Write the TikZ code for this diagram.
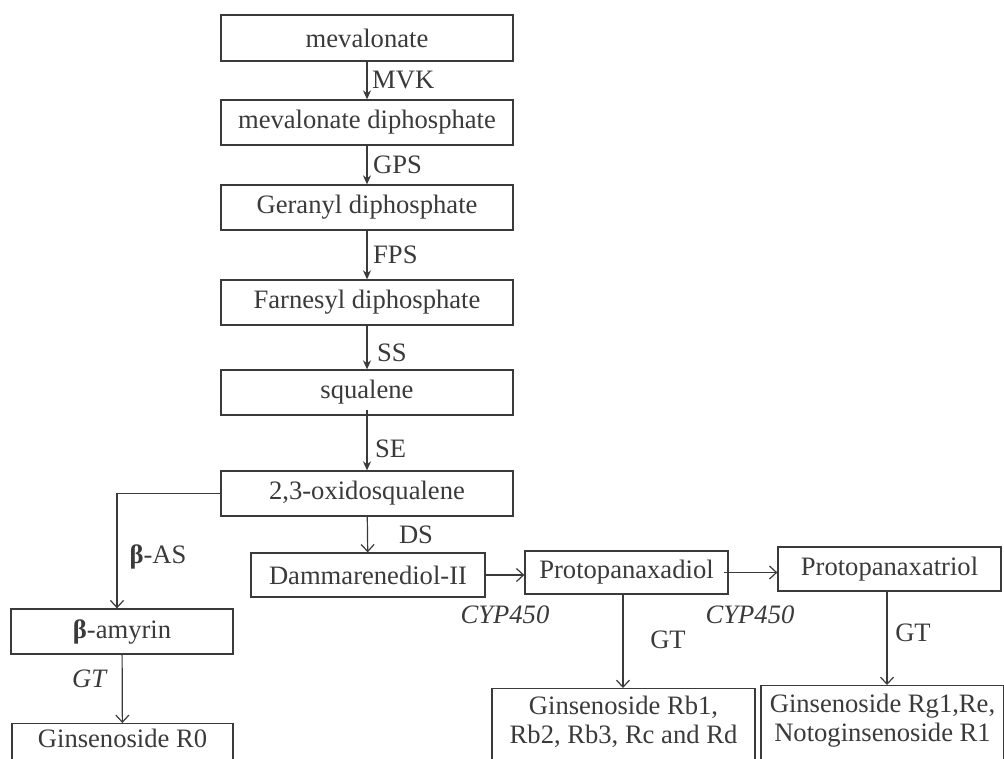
\documentclass[tikz,border=0pt]{standalone}
\usepackage{fontspec}
\setmainfont{Liberation Serif}
\usetikzlibrary{arrows.meta}
\definecolor{ink}{HTML}{3A3A3A}
\tikzset{
  box/.style={draw=ink, line width=1.3pt, text=ink, inner sep=0pt, align=center},
  fill arrow/.style={draw=ink, line width=1.3pt, -{Stealth[length=9pt,width=8pt]}},
  open arrow/.style={draw=ink, line width=1.2pt, -{Straight Barb[length=7pt,width=13pt]}},
  lab/.style={text=ink, inner sep=0pt},
  boxtext/.style={text=ink, inner sep=0pt, align=center, font=\fontsize{26.6}{29}\selectfont},
}
\begin{document}
\begin{tikzpicture}[x=1pt,y=-1pt,font=\fontsize{26.6}{29}\selectfont]
\useasboundingbox (0,0) rectangle (1004,758);
\clip (0,0) rectangle (1004,758);
% main column
\node[box, minimum width=292, minimum height=46] (m1) at (367,38) {mevalonate};
\node[box, minimum width=292, minimum height=45] (m2) at (367,122.5) {mevalonate diphosphate};
\node[box, minimum width=292, minimum height=45] (m3) at (367,207.5) {Geranyl diphosphate};
\node[box, minimum width=292, minimum height=45] (m4) at (367,302.5) {Farnesyl diphosphate};
\node[box, minimum width=292, minimum height=45] (m5) at (367,392.5) {squalene};
\node[box, minimum width=292, minimum height=45] (m6) at (367,493.5) {2,3-oxidosqualene};
% left branch
\node[box, minimum width=222, minimum height=45] (bam) at (122,631.5) {\textbf{β}-amyrin};
\node[box, minimum width=221, minimum height=60, anchor=north] (r0) at (122.5,723) {};
\node[boxtext] (r0t) at (122.5,738.5) {Ginsenoside R0};
% middle row
\node[box, minimum width=234, minimum height=44] (dam) at (368,575) {Dammarenediol-II};
\node[box, minimum width=203, minimum height=43] (ppd) at (626.5,572.5) {Protopanaxadiol};
\node[box, minimum width=223, minimum height=44] (ppt) at (889.5,569) {Protopanaxatriol};
% bottom products
\node[box, minimum width=263, minimum height=90, anchor=north] (rb) at (623.5,688) {};
\node[boxtext] (rbt) at (623.5,722) {Ginsenoside Rb1,\\ Rb2, Rb3, Rc and Rd};
\node[box, minimum width=243, minimum height=90, anchor=north] (rg) at (882.5,685) {};
\node[boxtext] (rgt) at (882.5,721) {Ginsenoside Rg1,Re,\\ Notoginsenoside R1};
% main column arrows
\draw[fill arrow] (m1) -- (m2);
\draw[fill arrow] (m2) -- (m3);
\draw[fill arrow] (m3) -- (m4);
\draw[fill arrow] (m4) -- (m5);
\draw[fill arrow] ([yshift=6pt]m5.south) -- (m6);
\node[lab, anchor=west] (lmvk) at (372,80) {MVK};
\node[lab, anchor=west] (lgps) at (373,165) {GPS};
\node[lab, anchor=west] (lfps) at (373,255) {FPS};
\node[lab, anchor=west] (lss) at (377,353) {SS};
\node[lab, anchor=west] (lse) at (375,449) {SE};
% beta branch
\coordinate (bcorner) at (117,493.5);
\draw[open arrow] (m6.west) -- (bcorner) -- (bcorner |- bam.north);
\node[lab] (lbas) at (158,557) {\textbf{β}-AS};
\draw[open arrow] (bam) -- (r0);
\node[lab] (lgt0) at (90,679) {\textit{GT}};
% DS
\draw[open arrow] (m6) -- (dam);
\node[lab] (lds) at (416,535) {DS};
% CYP450 arrows
\draw[open arrow] (dam.east) -- (dam.east -| ppd.west);
\node[lab] (lcyp1) at (505,615) {\textit{CYP450}};
\draw[open arrow] ([xshift=-5pt]ppd.east) -- (ppd.east -| ppt.west);
\node[lab] (lcyp2) at (750,615) {\textit{CYP450}};
% GT arrows
\draw[open arrow] (ppd.south -| 623,0) -- (rb.north -| 623,0);
\node[lab] (lgt1) at (668,640) {GT};
\draw[open arrow] (ppt.south -| 887,0) -- (rg.north -| 887,0);
\node[lab] (lgt2) at (913,633) {GT};
\end{tikzpicture}
\end{document}
